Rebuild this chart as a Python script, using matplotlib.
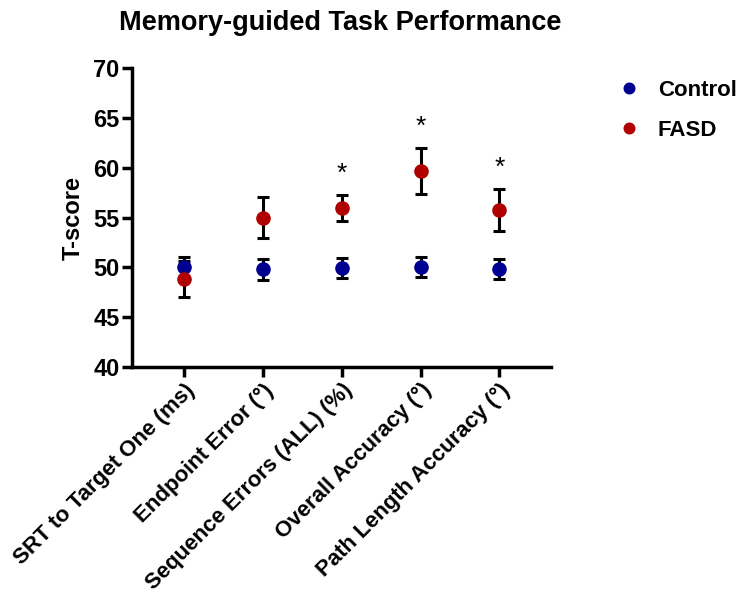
import numpy as np
import matplotlib
matplotlib.use("Agg")
import matplotlib.pyplot as plt

plt.rcParams['font.family'] = ['Liberation Sans', 'DejaVu Sans']
plt.rcParams['font.weight'] = 'bold'

# data
categories = ["SRT to Target One (ms)", "Endpoint Error (°)",
              "Sequence Errors (ALL) (%)", "Overall Accuracy (°)",
              "Path Length Accuracy (°)"]
control_mean = [50.0, 49.8, 49.9, 50.0, 49.8]
control_err = [1.0, 1.05, 1.0, 1.0, 1.0]
fasd_mean = [48.8, 55.0, 56.0, 59.7, 55.8]
fasd_err = [1.8, 2.05, 1.3, 2.3, 2.1]
signif = [False, False, True, True, True]

x = np.arange(1, len(categories) + 1)

fig = plt.figure(figsize=(7.47, 6.01), dpi=100)
ax = fig.add_axes([0.177, 0.389, 0.561, 0.498])

ax.errorbar(x, control_mean, yerr=control_err, fmt='o', color='#000090',
            ecolor='black', elinewidth=2.2, capsize=4, capthick=2.2,
            markersize=9.5, label='Control', zorder=3)
ax.errorbar(x, fasd_mean, yerr=fasd_err, fmt='o', color='#b00000',
            ecolor='black', elinewidth=2.2, capsize=4, capthick=2.2,
            markersize=9.5, label='FASD', zorder=3)

for xi, m, e, s in zip(x, fasd_mean, fasd_err, signif):
    if s:
        ax.text(xi, m + e + 0.9, '*', ha='center', va='bottom',
                fontsize=19, fontweight='normal')

ax.set_xlim(0.34, 5.66)
ax.set_ylim(40, 70)
ax.set_yticks(range(40, 71, 5))
ax.set_xticks(x)
ax.set_xticklabels(categories, rotation=45, ha='right',
                   rotation_mode='anchor', fontsize=16, fontweight='bold')
for lab in ax.get_yticklabels():
    lab.set_fontsize(17)
    lab.set_fontweight('bold')
ax.set_ylabel('T-score', fontsize=17, fontweight='bold', labelpad=6)

for side in ['top', 'right']:
    ax.spines[side].set_visible(False)
for side in ['left', 'bottom']:
    ax.spines[side].set_linewidth(2.5)
ax.tick_params(width=2.5, length=7, pad=2)

fig.text(0.455, 0.962, 'Memory-guided Task Performance', ha='center',
         va='center', fontsize=19.5, fontweight='bold')

handles, labels = ax.get_legend_handles_labels()
handles = [h[0] for h in handles]
fig.legend(handles, labels, loc='upper left', bbox_to_anchor=(0.815, 0.882),
           frameon=False, prop={'size': 16, 'weight': 'bold'},
           handlelength=1.0, handletextpad=0.8, labelspacing=0.85,
           markerscale=0.8, borderaxespad=0)

fig.savefig('out.png', dpi=100)
